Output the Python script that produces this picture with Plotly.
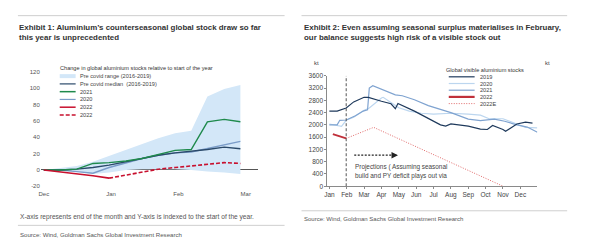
import plotly.graph_objects as go

W, H = 600, 240
FONT = "Liberation Sans Narrow, Arial Narrow, Liberation Sans, Arial, sans-serif"

# ---------------- Exhibit 1 data (x = months after end-Dec) ----------------
left_x = [0, 0.24, 0.49, 0.73, 0.97, 1.22, 1.46, 1.70, 1.95, 2.19, 2.43, 2.68, 2.92]
left_ticks = [0, 1, 2, 3]
left_ticktext = ["Dec", "Jan", "Feb", "Mar"]
left_yticks = [-20, 0, 20, 40, 60, 80, 100, 120]
left_yticktext = ["-20", "0", "20", "40", "60", "80", "100", "120"]
band_low = [0, 0, -2, -5, -3, 0, 1, 1, 1, 0, -2, -3, -5]
band_high = [0, 2, 5, 10, 17, 25, 32, 39, 45, 48, 90, 99, 104]
median_1619 = [0, 0, 1, 3, 6, 10, 14, 18, 21, 23, 25, 28, 26]
s2021 = [0, 0, 1, 8, 9, 11, 14, 19, 24, 25, 59, 62, 59]
s2020 = [0, 0, -2, -4, 3, 9, 14, 18, 21, 22, 26, 31, 35]
s2022_solid = [0, -2, -5, -7, -10]
s2022_dash = [-10, -6, -3, 1, 3, 5, 7, 9, 8]

# ---------------- Exhibit 2 data (x = months from 1 Jan) ----------------
right_ticks = list(range(12))
right_ticktext = ["Jan", "Feb", "Mar", "Apr", "May", "Jun", "Jul", "Aug", "Sep", "Oct", "Nov", "Dec"]
x19 = [0, 0.45, 0.97, 1.4, 2.0, 2.25, 3.0, 3.55, 3.8, 3.95, 4.9, 5.75, 6.4, 6.7, 7.0, 8.0, 8.7, 9.1, 9.4, 10.0, 10.15, 10.8, 11.3, 11.7]
v19 = [2450, 2450, 2550, 2750, 2900, 2900, 2770, 2690, 2530, 2700, 2450, 2200, 2000, 1960, 2030, 1960, 1860, 1850, 1980, 1850, 1790, 2030, 2090, 2060]
x20 = [0, 0.45, 0.7, 0.97, 1.4, 2.0, 2.3, 3.0, 3.1, 3.5, 4.0, 4.6, 5.3, 6.0, 7.0, 8.0, 8.7, 9.2, 10.0, 10.8, 11.3, 11.98]
v20 = [2030, 1990, 1950, 2150, 2250, 2480, 2550, 2880, 2900, 2750, 2560, 2450, 2380, 2350, 2380, 2350, 2320, 2200, 2200, 2030, 1920, 1900]
x21 = [0, 0.45, 0.6, 0.97, 1.5, 1.95, 2.2, 2.3, 2.5, 3.4, 3.8, 4.2, 4.9, 5.7, 6.4, 7.0, 8.0, 8.7, 9.5, 10.1, 10.8, 11.4, 11.98]
v21 = [2000, 2000, 2150, 2160, 2300, 2450, 2490, 3200, 3280, 3090, 2980, 2950, 2820, 2630, 2510, 2400, 2190, 2140, 2190, 2120, 2000, 1930, 1760]
x22 = [0.2, 0.5, 0.7, 0.97]
v22 = [1700, 1640, 1620, 1560]
x22e = [0.97, 2.55, 10.0]
v22e = [1560, 1920, 0]
feb_marker = 0.97


def px(x):
    return x / W


def py(y):
    return 1 - y / H


C_BAND = "#d3e7f8"
C_MED = "#2b4a6a"
C_GREEN = "#1f8a4c"
C_2020L = "#7a9cc8"
C_RED = "#c8102e"

C19 = "#1f3a5c"
C20 = "#bcd6ef"
C21 = "#7fa3d0"
C22 = "#c0303a"
C22E = "#e06a6a"

fig = go.Figure()

# ---- left chart traces
fig.add_trace(go.Scatter(x=left_x, y=band_low, mode="lines", line=dict(width=0, color=C_BAND),
                         showlegend=False, xaxis="x", yaxis="y", hoverinfo="skip"))
fig.add_trace(go.Scatter(x=left_x, y=band_high, mode="lines", line=dict(width=0, color=C_BAND),
                         fill="tonexty", fillcolor=C_BAND, showlegend=False, xaxis="x", yaxis="y"))
fig.add_trace(go.Scatter(x=left_x, y=s2020, mode="lines", line=dict(width=1.4, color=C_2020L),
                         showlegend=False, xaxis="x", yaxis="y"))
fig.add_trace(go.Scatter(x=left_x, y=median_1619, mode="lines", line=dict(width=1.4, color=C_MED),
                         showlegend=False, xaxis="x", yaxis="y"))
fig.add_trace(go.Scatter(x=left_x, y=s2021, mode="lines", line=dict(width=1.4, color=C_GREEN),
                         showlegend=False, xaxis="x", yaxis="y"))
fig.add_trace(go.Scatter(x=left_x[:len(s2022_solid)], y=s2022_solid, mode="lines",
                         line=dict(width=1.6, color=C_RED), showlegend=False, xaxis="x", yaxis="y"))
fig.add_trace(go.Scatter(x=left_x[len(s2022_solid) - 1:], y=s2022_dash, mode="lines",
                         line=dict(width=1.6, color=C_RED, dash="4px,2px"), showlegend=False, xaxis="x", yaxis="y"))

# ---- right chart traces
fig.add_trace(go.Scatter(x=x20, y=v20, mode="lines", line=dict(width=1.2, color=C20),
                         showlegend=False, xaxis="x2", yaxis="y3"))
fig.add_trace(go.Scatter(x=x21, y=v21, mode="lines", line=dict(width=1.2, color=C21),
                         showlegend=False, xaxis="x2", yaxis="y3"))
fig.add_trace(go.Scatter(x=x19, y=v19, mode="lines", line=dict(width=1.2, color=C19),
                         showlegend=False, xaxis="x2", yaxis="y3"))
fig.add_trace(go.Scatter(x=x22e, y=v22e, mode="lines", line=dict(width=1, color=C22E, dash="1px,1.5px"),
                         showlegend=False, xaxis="x2", yaxis="y3"))
fig.add_trace(go.Scatter(x=x22, y=v22, mode="lines", line=dict(width=1.8, color=C22),
                         showlegend=False, xaxis="x2", yaxis="y3"))

tickfont_l = dict(family=FONT, size=6, color="#555")
tickfont_r = dict(family=FONT, size=6.5, color="#444")

# left x range: 0 -> 41px, 3 -> 244px, domain 38..256
lx_per = (244 - 41) / 3
lx_range = [-(41 - 38) / lx_per, 3 + (256 - 244) / lx_per]
# right x range: Jan -> 328px, 17.45 px/month, domain 326..537
rx_per = 17.45
rx_range = [-(328 - 326) / rx_per, (537 - 328) / rx_per]

fig.update_layout(
    width=W, height=H, margin=dict(l=0, r=0, t=0, b=0),
    paper_bgcolor="white", plot_bgcolor="rgba(0,0,0,0)",
    showlegend=False,
    font=dict(family=FONT, size=6, color="#444"),
    xaxis=dict(domain=[px(38), px(256)], range=lx_range, anchor="y", tickvals=left_ticks,
               ticktext=left_ticktext, showgrid=False, zeroline=False, showline=False,
               ticks="", tickfont=tickfont_l, ticklabelstandoff=3),
    yaxis=dict(domain=[py(187.8), py(70)], range=[-20, 120], anchor="x", tickvals=left_yticks,
               ticktext=left_yticktext,
               showgrid=False, zeroline=True, zerolinecolor="#555", zerolinewidth=1,
               showline=False, ticks="", tickfont=tickfont_l),
    yaxis2=dict(overlaying="y", side="right", anchor="x", range=[-20, 120], tickvals=left_yticks,
                ticktext=left_yticktext,
                showgrid=False, zeroline=False, showline=False, ticks="", tickfont=tickfont_l),
    xaxis2=dict(domain=[px(326), px(537)], range=rx_range, anchor="y3", tickvals=right_ticks,
                ticktext=right_ticktext, showgrid=False, zeroline=False, showline=True,
                linecolor="#8a8a8a", linewidth=1, ticks="outside", ticklen=2, tickcolor="#8a8a8a",
                tickfont=tickfont_r),
    yaxis3=dict(domain=[py(187.7), py(74)], range=[0, 3600], anchor="x2", dtick=400,
                showgrid=False, zeroline=False, showline=True, linecolor="#8a8a8a", linewidth=1,
                ticks="outside", ticklen=2, tickcolor="#8a8a8a", tickfont=tickfont_r),
    yaxis4=dict(overlaying="y3", side="right", anchor="x2", range=[0, 3600], dtick=400,
                showgrid=False, zeroline=False, showline=True, linecolor="#8a8a8a", linewidth=1,
                ticks="outside", ticklen=2, tickcolor="#8a8a8a", tickfont=tickfont_r),
)

shapes = []
annotations = []


def txt(x, y, s, size=6, color="#444", bold=False, xanchor="left"):
    annotations.append(dict(x=px(x), y=py(y), xref="paper", yref="paper", text=(f"<b>{s}</b>" if bold else s),
                            showarrow=False, xanchor=xanchor, yanchor="middle",
                            font=dict(family=FONT, size=size, color=color)))


def hline(x0, x1, y, color, width=1, dash="solid"):
    shapes.append(dict(type="line", xref="paper", yref="paper", x0=px(x0), x1=px(x1), y0=py(y), y1=py(y),
                       line=dict(color=color, width=width, dash=dash)))


# separators
hline(15, 283, 12, "#cfcfcf")
hline(300, 567, 12, "#cfcfcf")
hline(15, 283, 228, "#cfcfcf")
hline(300, 567, 213, "#cfcfcf")

# titles
txt(14, 24, "Exhibit 1: Aluminium’s counterseasonal global stock draw so far", size=7.9, color="#333", bold=True)
txt(14, 34, "this year is unprecedented", size=7.9, color="#333", bold=True)
txt(300, 24, "Exhibit 2: Even assuming seasonal surplus materialises in February,", size=7.9, color="#333", bold=True)
txt(300, 34, "our balance suggests high risk of a visible stock out", size=7.9, color="#333", bold=True)

# footers
txt(15, 219, "X-axis represents end of the month and Y-axis is indexed to the start of the year.", size=6.6, color="#555")
txt(15, 237.5, "Source: Wind, Goldman Sachs Global Investment Research", size=6.1, color="#555")
txt(300, 221.5, "Source: Wind, Goldman Sachs Global Investment Research", size=6.0, color="#555")

# left legend
txt(55, 66, "Change in global aluminium stocks relative to start of the year", size=5.6, color="#333")
left_leg = [
    ("Pre covid range (2016-2019)", C_BAND, 4, "solid"),
    ("Pre covid median  (2016-2019)", C_MED, 1.2, "solid"),
    ("2021", C_GREEN, 1.5, "solid"),
    ("2020", C_2020L, 1.2, "solid"),
    ("2022", C_RED, 1.5, "solid"),
    ("2022", C_RED, 1.5, "4px,2px"),
]
for i, (name, col, wdt, dsh) in enumerate(left_leg):
    yy = 74.3 + i * 8
    hline(57, 73, yy, col, wdt, dsh)
    txt(75, yy, name, size=5.6, color="#444")

# right legend
txt(443, 67.7, "Global visible aluminium stocks", size=5.6, color="#333")
right_leg = [
    ("2019", C19, 1.2, "solid"),
    ("2020", C20, 1.2, "solid"),
    ("2021", C21, 1.2, "solid"),
    ("2022", C22, 2.2, "solid"),
    ("2022E", C22E, 1, "1px,1.5px"),
]
for i, (name, col, wdt, dsh) in enumerate(right_leg):
    yy = 75 + i * 6.9
    hline(448, 474, yy, col, wdt, dsh)
    txt(477, yy, name, size=5.6, color="#444")

# right chart: "kt" units
txt(315, 61, "kt", size=6, color="#444", xanchor="center")
txt(547, 61, "kt", size=6, color="#444", xanchor="center")

# right chart: vertical dashed line at February
shapes.append(dict(type="line", xref="x2", yref="y3", x0=feb_marker, x1=feb_marker, y0=0, y1=3600,
                   line=dict(color="#555", width=1, dash="3px,2px")))

# projection arrow
arrow_y = (187.7 - 155.7) / (187.7 - 74) * 3600
ax0 = (353 - 328) / rx_per
ax1 = (393 - 328) / rx_per
shapes.append(dict(type="line", xref="x2", yref="y3", x0=ax0, x1=ax1, y0=arrow_y, y1=arrow_y,
                   line=dict(color="#222", width=1.3, dash="2px,1.5px")))
annotations.append(dict(x=(397 - 328) / rx_per, y=arrow_y, xref="x2", yref="y3", ax=-6, ay=0,
                        showarrow=True, arrowhead=2, arrowsize=1, arrowwidth=1.3, arrowcolor="#222", text=""))
txt(352, 168, "Projections ( Assuming seasonal", size=6.4, color="#444")
txt(352, 177, "build and PY deficit plays out via", size=6.4, color="#444")

fig.update_layout(shapes=shapes, annotations=annotations)
fig.write_html("out.html")
